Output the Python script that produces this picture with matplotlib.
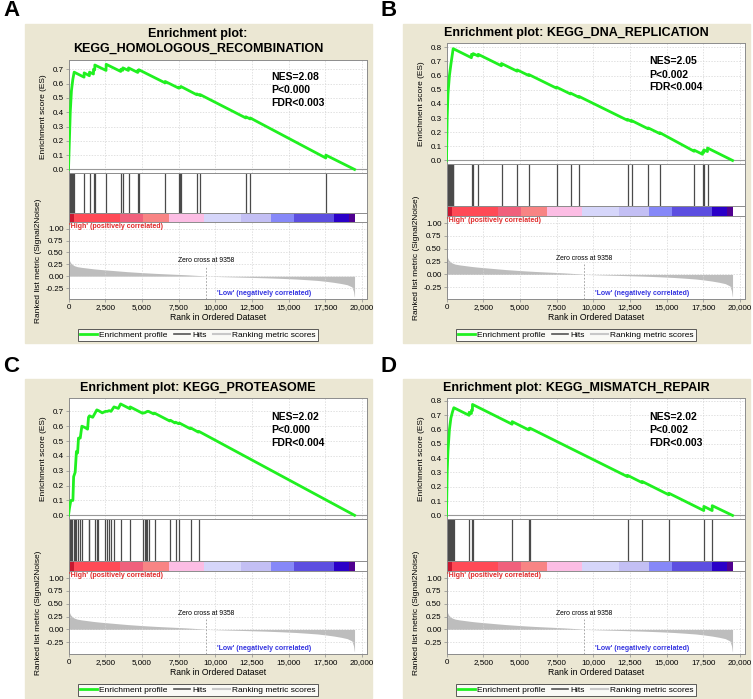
import matplotlib
matplotlib.use("Agg")
import matplotlib.pyplot as plt
from matplotlib.patches import Rectangle
from matplotlib.lines import Line2D
from matplotlib.ticker import FuncFormatter

plt.rcParams['font.family'] = ['Liberation Sans', 'DejaVu Sans']

W, H = 753, 699

# shared ranked list (same dataset for all four gene sets)
n_genes = 19500
zero_cross = 9358
rank_ticks = [0, 2500, 5000, 7500, 10000, 12500, 15000, 17500, 20000]
metric_rank = [0, 30, 80, 150, 250, 400, 600, 900, 1250, 1700, 2200, 3000, 4000, 5000, 6000,
               7000, 8000, 9000, 9358, 10500, 11500, 12500, 13500, 14500, 15500, 16300, 17000,
               17600, 18100, 18600, 19000, 19320, 19430, 19480, 19500]
metric_val = [0.46, 0.38, 0.32, 0.28, 0.25, 0.22, 0.20, 0.185, 0.172, 0.155, 0.14, 0.12, 0.095,
              0.075, 0.058, 0.044, 0.03, 0.012, 0.0, -0.01, -0.018, -0.026, -0.035, -0.046,
              -0.06, -0.075, -0.09, -0.11, -0.13, -0.155, -0.18, -0.225, -0.32, -0.42, -0.44]
bar_edges = [0, 400, 3520, 5050, 6880, 9250, 11750, 13780, 15380, 18130, 19090, 19500]
bar_colors = ['#c81830', '#ff4a56', '#f0607c', '#f88484', '#fcbde4', '#d6d6fa', '#c3bff4',
              '#8688f8', '#5c4ee0', '#2a00c8', '#500090']

# A: homologous recombination
title_a = "Enrichment plot:\nKEGG_HOMOLOGOUS_RECOMBINATION"
stats_a = ["NES=2.08", "P<0.000", "FDR<0.003"]
hits_a = [20, 60, 100, 140, 180, 220, 260, 300, 386, 1068, 1432, 1705, 1795, 2568, 3568, 3705,
          4091, 4727, 4795, 6591, 7523, 7614, 7660, 8750, 8977, 12090, 12386, 17545]
es_rank_a = [0, 45, 120, 200, 295, 386, 1060, 1068, 1425, 1432, 1700, 1705, 1790, 1795, 2560,
             2568, 3560, 3568, 3700, 3705, 4085, 4091, 4720, 4727, 4790, 4795, 6585, 6591, 7520,
             7523, 7610, 7660, 8745, 8750, 8970, 8977, 12085, 12090, 12380, 12386, 17540, 17545,
             19500]
es_a = [0.0, 0.15, 0.40, 0.55, 0.63, 0.68, 0.645, 0.675, 0.655, 0.68, 0.667, 0.70, 0.696, 0.73,
        0.692, 0.735, 0.685, 0.70, 0.693, 0.71, 0.692, 0.71, 0.678, 0.69, 0.687, 0.697, 0.605,
        0.615, 0.568, 0.575, 0.571, 0.58, 0.522, 0.528, 0.517, 0.523, 0.36, 0.368, 0.353, 0.36,
        0.08, 0.10, 0.0]

# B: DNA replication
title_b = "Enrichment plot: KEGG_DNA_REPLICATION"
stats_b = ["NES=2.05", "P<0.002", "FDR<0.004"]
hits_b = [20, 60, 100, 140, 180, 220, 260, 300, 340, 380, 420, 455, 1705, 1818, 2160, 3750,
          4818, 5614, 7500, 8455, 9045, 12340, 12614, 13750, 14545, 16886, 17455, 17545, 17795]
es_rank_b = [0, 45, 100, 200, 300, 455, 1700, 1705, 1810, 1818, 2155, 2160, 3745, 3750, 4812,
             4818, 5608, 5614, 7495, 7500, 8450, 8455, 9040, 9045, 12335, 12340, 12610, 12614,
             13745, 13750, 14540, 14545, 16880, 16886, 17450, 17455, 17540, 17545, 17790, 17795,
             19500]
es_b = [0.0, 0.30, 0.47, 0.60, 0.68, 0.79, 0.726, 0.75, 0.745, 0.755, 0.738, 0.75, 0.669, 0.685,
        0.631, 0.64, 0.60, 0.607, 0.511, 0.518, 0.47, 0.476, 0.446, 0.452, 0.284, 0.29, 0.276,
        0.282, 0.224, 0.23, 0.19, 0.196, 0.065, 0.073, 0.044, 0.06, 0.056, 0.075, 0.063, 0.088,
        0.0]

# C: proteasome
title_c = "Enrichment plot: KEGG_PROTEASOME"
stats_c = ["NES=2.02", "P<0.000", "FDR<0.004"]
hits_c = [70, 160, 250, 350, 455, 540, 680, 800, 910, 1365, 1430, 1820, 1930, 2045, 2520, 2650,
          2780, 2900, 3100, 3550, 4205, 5090, 5190, 5280, 5380, 5455, 5865, 6950, 7300, 7550,
          8320, 8890]
es_rank_c = [0, 70, 160, 300, 350, 455, 540, 620, 680, 800, 910, 1150, 1300, 1365, 1430, 1650,
             1820, 1930, 2045, 2300, 2520, 2650, 2780, 2900, 3100, 3400, 3550, 4200, 4205, 5050,
             5090, 5190, 5280, 5380, 5455, 5800, 5865, 6900, 6950, 7250, 7300, 7500, 7550, 8280,
             8320, 8850, 8890, 19500]
es_c = [0.0, 0.05, 0.10, 0.10, 0.26, 0.29, 0.43, 0.42, 0.52, 0.52, 0.60, 0.59, 0.58, 0.66, 0.67,
        0.66, 0.69, 0.71, 0.705, 0.69, 0.70, 0.70, 0.705, 0.70, 0.73, 0.72, 0.75, 0.717, 0.73,
        0.687, 0.69, 0.69, 0.695, 0.70, 0.70, 0.683, 0.688, 0.635, 0.64, 0.622, 0.627, 0.617,
        0.622, 0.584, 0.589, 0.56, 0.565, 0.0]

# D: mismatch repair
title_d = "Enrichment plot: KEGG_MISMATCH_REPAIR"
stats_d = ["NES=2.02", "P<0.002", "FDR<0.003"]
hits_d = [20, 60, 100, 140, 180, 220, 260, 300, 340, 380, 420, 460, 500, 1545, 1705, 1773,
          4477, 5614, 5682, 12340, 13340, 15160, 17545, 18115]
es_rank_d = [0, 45, 100, 200, 300, 400, 500, 1540, 1545, 1700, 1705, 1768, 1773, 4472, 4477,
             5609, 5614, 5677, 5682, 12335, 12340, 13335, 13340, 15155, 15160, 17540, 17545,
             18110, 18115, 19500]
es_d = [0.0, 0.30, 0.45, 0.60, 0.68, 0.72, 0.752, 0.699, 0.72, 0.712, 0.735, 0.732, 0.775, 0.637,
        0.655, 0.597, 0.605, 0.602, 0.61, 0.271, 0.28, 0.229, 0.237, 0.144, 0.155, 0.034, 0.063,
        0.034, 0.068, 0.0]

GREEN = '#20f020'
BEIGE = '#ebe7d3'
SPINE = '#8c8c8c'
XMAX = 20350

fig = plt.figure(figsize=(W / 100, H / 100), dpi=100)


def px_axes(l, t, w, h):
    return fig.add_axes([l / W, 1 - (t + h) / H, w / W, h / H])


def style(ax):
    for s in ax.spines.values():
        s.set_color(SPINE)
        s.set_linewidth(0.7)
    ax.tick_params(labelsize=5.8, length=2, width=0.5, color=SPINE, pad=1.5)
    ax.set_xlim(0, XMAX)


def draw_panel(ox, oy, letter, title, two_line, stats, hits, es_rank, es_val, es_ticks, es_top):
    fig.patches.append(Rectangle((ox / W, 1 - (oy + 319) / H), 347 / W, 319 / H,
                                 transform=fig.transFigure, color=BEIGE, zorder=-1))
    fig.text((ox - 22) / W, 1 - (oy - 13) / H, letter, fontsize=16, fontweight='bold',
             va='center', ha='left')
    cx = ox + 173
    if two_line:
        lines = title.split("\n")
        fig.text(cx / W, 1 - (oy + 9.5) / H, lines[0], fontsize=9, fontweight='bold',
                 ha='center', va='center')
        fig.text(cx / W, 1 - (oy + 24.5) / H, lines[1], fontsize=9, fontweight='bold',
                 ha='center', va='center')
        es_t, es_b, hit_b, bar_b = 36, 149, 189, 198
        sy = 53
    else:
        fig.text(cx / W, 1 - (oy + 9) / H, title, fontsize=9, fontweight='bold',
                 ha='center', va='center')
        es_t, es_b, hit_b, bar_b = 19, 140, 182, 192
        sy = 37.5
    rank_b = 275
    al = ox + 43.5
    aw = 298.5

    # running enrichment score
    ax = px_axes(al, oy + es_t, aw, es_b - es_t)
    style(ax)
    ax.plot(es_rank, es_val, color=GREEN, lw=2.0, zorder=3)
    ax.axhline(0, color='#999999', lw=0.8, zorder=2)
    ax.set_ylim(-0.025, es_top)
    ax.set_yticks(es_ticks)
    ax.yaxis.set_major_formatter(FuncFormatter(lambda v, p: f"{v:.1f}"))
    ax.set_xticks(rank_ticks)
    ax.tick_params(axis='x', labelbottom=False, length=0)
    ax.grid(True, color='#d4d4d4', lw=0.5, ls=(0, (2, 2)))
    ax.set_ylabel("Enrichment score (ES)", fontsize=6)
    ax.yaxis.set_label_coords(-0.073, 0.5)
    for i, s in enumerate(stats):
        ax.text((al + 203) / W, 1 - (oy + sy + 13 * i) / H, s, transform=fig.transFigure,
                fontsize=7.5, fontweight='bold', ha='left', va='center')

    # hits
    axh = px_axes(al, oy + es_b, aw, hit_b - es_b)
    style(axh)
    axh.vlines(hits, 0, 1, color='#4a4a4a', lw=0.9)
    axh.set_ylim(0, 1)
    axh.set_xticks([])
    axh.set_yticks([])

    # colour bar of the ranked list
    axc = px_axes(al, oy + hit_b, aw, bar_b - hit_b)
    style(axc)
    axc.bar(bar_edges[:-1], 1, width=[b - a for a, b in zip(bar_edges[:-1], bar_edges[1:])],
            align='edge', color=bar_colors, lw=0)
    axc.set_ylim(0, 1)
    axc.set_xticks([])
    axc.set_yticks([])

    # ranked list metric
    axr = px_axes(al, oy + bar_b, aw, rank_b - bar_b)
    style(axr)
    axr.fill_between(metric_rank, metric_val, 0, color='#bdbdbd', lw=0)
    axr.set_ylim(-0.48, 1.14)
    axr.set_yticks([1.0, 0.75, 0.5, 0.25, 0.0, -0.25])
    axr.yaxis.set_major_formatter(FuncFormatter(lambda v, p: f"{v:.2f}"))
    axr.set_xticks(rank_ticks)
    axr.xaxis.set_major_formatter(FuncFormatter(lambda v, p: f"{int(v):,}"))
    axr.grid(True, color='#d4d4d4', lw=0.5, ls=(0, (2, 2)))
    axr.axvline(zero_cross, ymax=0.43, color='#999999', lw=0.6, ls=(0, (2, 2)))
    axr.text(zero_cross, 0.32, f"Zero cross at {zero_cross}", fontsize=4.9, ha='center',
             va='center')
    axr.text(60, 1.055, "'High' (positively correlated)", fontsize=5, fontweight='bold',
             color='#e02a2a', ha='left', va='center')
    axr.text(13350, -0.37, "'Low' (negatively correlated)", fontsize=5, fontweight='bold',
             color='#3434e0', ha='center', va='center')
    axr.set_ylabel("Ranked list metric (Signal2Noise)", fontsize=6)
    axr.yaxis.set_label_coords(-0.09, 0.5)
    axr.set_xlabel("Rank in Ordered Dataset", fontsize=6.2)
    axr.xaxis.set_label_coords(0.5, -14.0 / (rank_b - bar_b))

    handles = [Line2D([], [], color=GREEN, lw=2),
               Line2D([], [], color='#555555', lw=1.2),
               Line2D([], [], color='#c8c8c8', lw=1.5)]
    leg = fig.legend(handles, ["Enrichment profile", "Hits", "Ranking metric scores"],
                     loc='center', bbox_to_anchor=(cx / W, 1 - (oy + 311) / H), ncol=3,
                     fontsize=6, frameon=True, fancybox=False, edgecolor='#333333',
                     handlelength=2.0, handletextpad=0.3, columnspacing=0.7,
                     borderpad=0.3, borderaxespad=0)
    leg.get_frame().set_linewidth(0.7)


draw_panel(25, 24, 'A', title_a, True, stats_a, hits_a, es_rank_a, es_a,
           [0.0, 0.1, 0.2, 0.3, 0.4, 0.5, 0.6, 0.7], 0.765)
draw_panel(403, 24, 'B', title_b, False, stats_b, hits_b, es_rank_b, es_b,
           [0.0, 0.1, 0.2, 0.3, 0.4, 0.5, 0.6, 0.7, 0.8], 0.83)
draw_panel(25, 379, 'C', title_c, False, stats_c, hits_c, es_rank_c, es_c,
           [0.0, 0.1, 0.2, 0.3, 0.4, 0.5, 0.6, 0.7], 0.79)
draw_panel(403, 379, 'D', title_d, False, stats_d, hits_d, es_rank_d, es_d,
           [0.0, 0.1, 0.2, 0.3, 0.4, 0.5, 0.6, 0.7, 0.8], 0.82)

fig.savefig("out.png", dpi=100, facecolor='white')
